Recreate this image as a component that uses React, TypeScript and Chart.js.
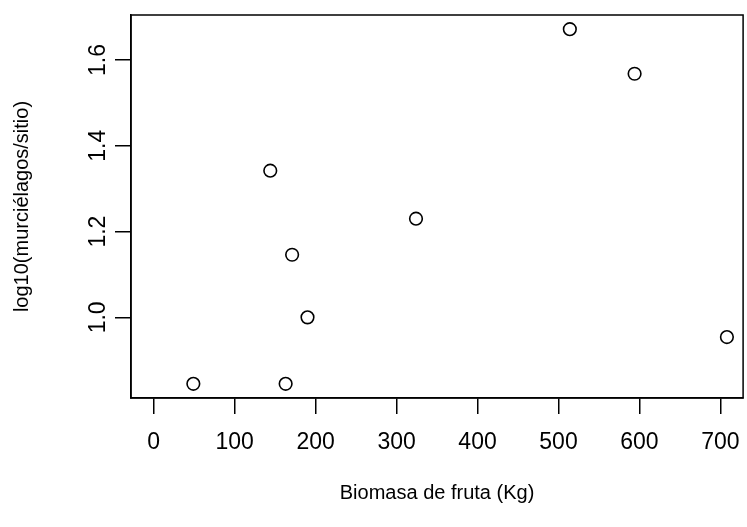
import React, { useEffect, useRef } from "react";
import { Chart, registerables } from "chart.js";

Chart.register(...registerables);

const biomasaKg = [49, 163, 144, 171, 190, 324, 514, 594, 708];
const logMurcielagos = [0.845, 0.845, 1.342, 1.146, 1.0, 1.23, 1.672, 1.568, 0.954];
const xTickValues = [0, 100, 200, 300, 400, 500, 600, 700];
const yTickValues = [1.0, 1.2, 1.4, 1.6];
const xTitle = "Biomasa de fruta (Kg)";
const yTitle = "log10(murciélagos/sitio)";

const FONT = "'Liberation Sans', Arial, Helvetica, sans-serif";

const rPlugin = {
  id: "rStyle",
  afterDraw(chart: any) {
    const { ctx, chartArea, scales } = chart;
    ctx.save();
    ctx.strokeStyle = "#000";
    ctx.lineWidth = 1.5;
    ctx.strokeRect(chartArea.left, chartArea.top, chartArea.right - chartArea.left, chartArea.bottom - chartArea.top);
    ctx.fillStyle = "#000";
    ctx.font = `23px ${FONT}`;
    ctx.textAlign = "center";
    ctx.textBaseline = "middle";
    const xs = scales.x;
    xs.ticks.forEach((t: any) => {
      ctx.fillText(String(t.value), xs.getPixelForValue(t.value), 443);
    });
    const ys = scales.y;
    ys.ticks.forEach((t: any) => {
      const py = ys.getPixelForValue(t.value);
      ctx.save();
      ctx.translate(99, py);
      ctx.rotate(-Math.PI / 2);
      ctx.fillText(Number(t.value).toFixed(1), 0, 0);
      ctx.restore();
    });
    ctx.font = `20px ${FONT}`;
    ctx.fillText(xTitle, (chartArea.left + chartArea.right) / 2, 493);
    ctx.save();
    ctx.translate(22, (chartArea.top + chartArea.bottom) / 2);
    ctx.rotate(-Math.PI / 2);
    ctx.fillText(yTitle, 0, 0);
    ctx.restore();
    ctx.restore();
  },
};

export default function App() {
  const ref = useRef<HTMLCanvasElement>(null);
  useEffect(() => {
    if (!ref.current) return;
    const chart = new Chart(ref.current, {
      type: "scatter",
      data: {
        datasets: [
          {
            data: biomasaKg.map((x, i) => ({ x, y: logMurcielagos[i] })),
            pointStyle: "circle",
            pointRadius: 6.3,
            pointHoverRadius: 6.3,
            pointBorderWidth: 1.6,
            borderColor: "#000",
            backgroundColor: "rgba(0,0,0,0)",
          },
        ],
      },
      options: {
        responsive: false,
        animation: false,
        events: [],
        layout: { padding: { left: 0, top: 15, right: 0, bottom: 0 } },
        plugins: { legend: { display: false }, tooltip: { enabled: false } },
        scales: {
          x: {
            type: "linear",
            min: -28,
            max: 728,
            afterBuildTicks: (s: any) => {
              s.ticks = xTickValues.map((v) => ({ value: v }));
            },
            afterFit: (s: any) => {
              s.height = 129;
            },
            grid: { drawOnChartArea: false, drawTicks: true, tickLength: 16, color: "#000", lineWidth: 1.5 },
            border: { display: true, color: "#000", width: 1.5 },
            ticks: { display: false },
          },
          y: {
            type: "linear",
            min: 0.812,
            max: 1.705,
            afterBuildTicks: (s: any) => {
              s.ticks = yTickValues.map((v) => ({ value: v }));
            },
            afterFit: (s: any) => {
              s.width = 131;
            },
            grid: { drawOnChartArea: false, drawTicks: true, tickLength: 16, color: "#000", lineWidth: 1.5 },
            border: { display: true, color: "#000", width: 1.5 },
            ticks: { display: false },
          },
        },
      },
      plugins: [rPlugin],
    });
    return () => chart.destroy();
  }, []);
  return (
    <div style={{ position: "absolute", left: 0, top: 0, width: 747, height: 527, overflow: "hidden", background: "#fff" }}>
      <canvas ref={ref} width={751} height={527} style={{ display: "block" }} />
    </div>
  );
}
